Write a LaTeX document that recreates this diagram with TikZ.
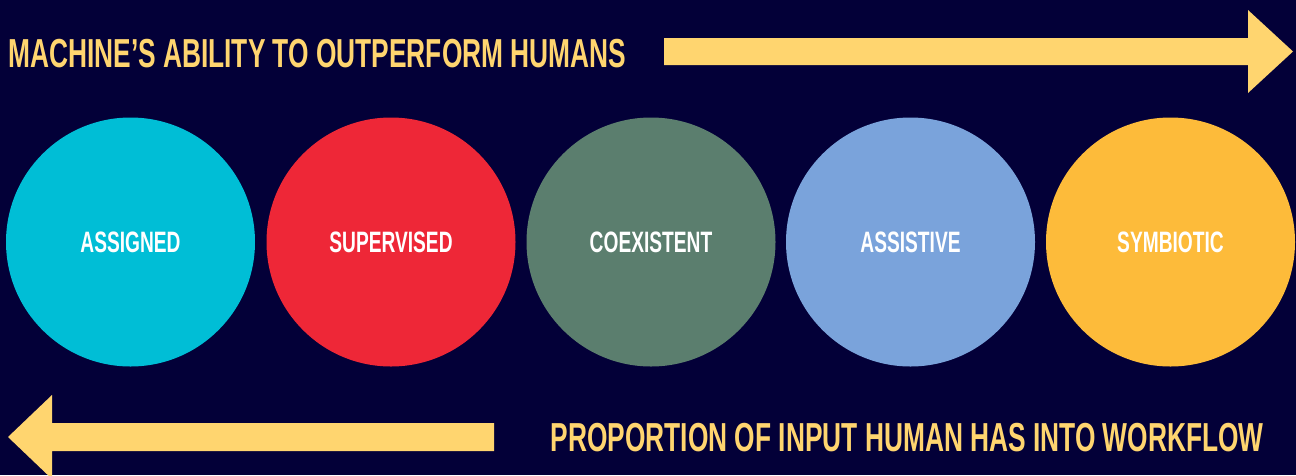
\documentclass[tikz,border=0pt]{standalone}
\usepackage{fontspec}
\setmainfont{Liberation Sans}[FakeStretch=0.65]
\usepackage{tikz}

% colours
\definecolor{navy}{RGB}{3,0,56}
\definecolor{banana}{RGB}{255,213,111}
\definecolor{cyanc}{RGB}{0,190,214}
\definecolor{redc}{RGB}{238,39,55}
\definecolor{sage}{RGB}{91,126,110}
\definecolor{skyc}{RGB}{122,163,219}
\definecolor{gold}{RGB}{253,187,58}

\begin{document}
\begin{tikzpicture}[x=1pt,y=-1pt,
  stage/.style={circle,minimum size=249pt,inner sep=0pt,text=white,
    font=\fontsize{29.5}{34}\selectfont\bfseries},
  banner/.style={inner sep=0pt,text=banana,
    font=\fontsize{40.5}{46}\selectfont\bfseries},
  bigarrow/.style={fill=banana}]

% Dark backdrop, fixes the page size
\fill [navy] (0,0) rectangle (1296,475);
\useasboundingbox (0,0) rectangle (1296,475);

 % Top line: machine side
 \node[banner,anchor=base west] (machine) at (8,67) {MACHINE’S ABILITY TO OUTPERFORM HUMANS};
 \fill[bigarrow] (664,38) -- (1248,38) -- (1248,10) -- (1293,51.5)
   -- (1248,93) -- (1248,65) -- (664,65) -- cycle;

 % The five stages
 \node[stage,fill=cyanc] (assigned)   at (130.5,242) {ASSIGNED};
 \node[stage,fill=redc]  (supervised) at (391,242)   {SUPERVISED};
 \node[stage,fill=sage]  (coexistent) at (651,242)   {COEXISTENT};
 \node[stage,fill=skyc]  (assistive)  at (910.5,242) {ASSISTIVE};
 \node[stage,fill=gold]  (symbiotic)  at (1170.5,242) {SYMBIOTIC};

 % Bottom line: human side
 \fill[bigarrow] (494,423) -- (52,423) -- (52,395) -- (8,437)
   -- (52,479) -- (52,451) -- (494,451) -- cycle;
 \node[banner,anchor=base east] (human) at (1264,451) {PROPORTION OF INPUT HUMAN HAS INTO WORKFLOW};

\end{tikzpicture}
\end{document}
